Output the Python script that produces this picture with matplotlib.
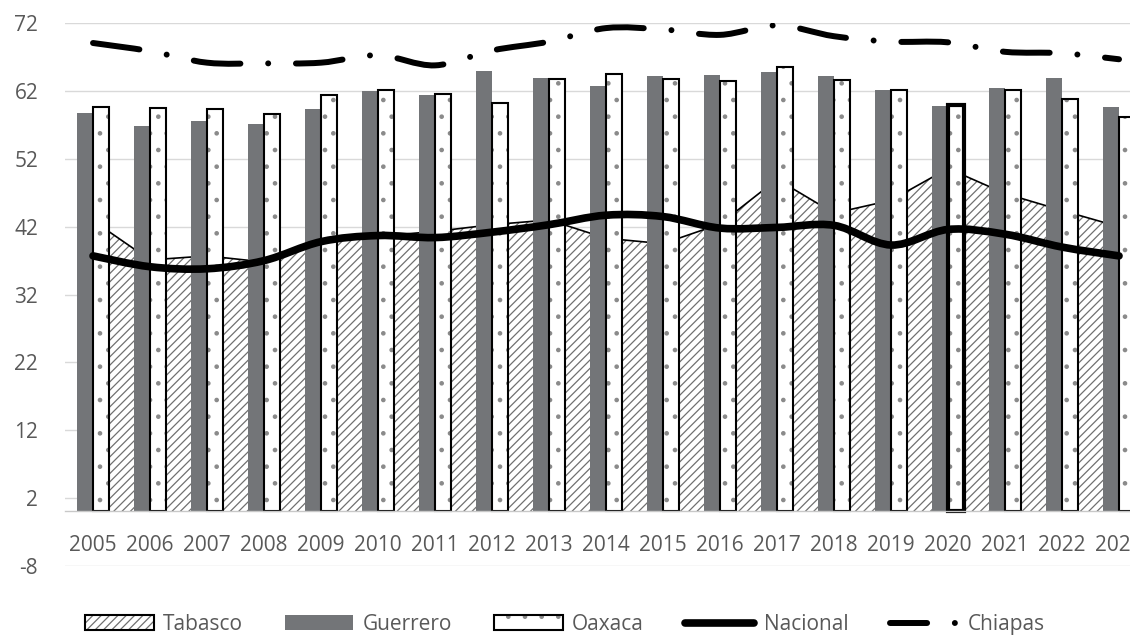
import matplotlib.pyplot as plt
import numpy as np
from matplotlib.legend_handler import HandlerTuple
from matplotlib.lines import Line2D
from matplotlib.patches import Patch, PathPatch
from matplotlib.path import Path

years = [str(y) for y in range(2005, 2024)]
tabasco = [42.9, 37.1, 37.7, 36.8, 39.8, 40.6, 41.3, 42.3, 43.0, 40.3,
           39.5, 42.4, 49.0, 44.0, 45.9, 50.6, 46.9, 44.4, 42.0]
guerrero = [58.8, 56.8, 57.6, 57.1, 59.4, 62.0, 61.5, 64.9, 64.0, 62.8,
            64.3, 64.4, 64.8, 64.2, 62.1, 59.8, 62.4, 64.0, 59.7]
oaxaca = [59.6, 59.5, 59.3, 58.7, 61.4, 62.2, 61.6, 60.3, 63.8, 64.5,
          63.8, 63.5, 65.6, 63.7, 62.2, 59.9, 62.2, 60.8, 58.2]
nacional = [37.7, 36.1, 35.8, 37.0, 39.8, 40.7, 40.4, 41.2, 42.3, 43.7,
            43.5, 41.8, 41.9, 42.2, 39.3, 41.6, 40.9, 39.0, 37.7]
chiapas = [69.1, 67.9, 66.2, 66.1, 66.2, 67.3, 65.8, 68.0, 69.3, 71.3,
           71.1, 70.3, 71.7, 70.1, 69.3, 69.2, 67.8, 67.6, 66.7]

TEXT = "#595959"
GRID = "#d9d9d9"
GRAY = "#737578"
HATCH = "#707070"

plt.rcParams["font.family"] = ["Open Sans", "DejaVu Sans"]
plt.rcParams["axes.unicode_minus"] = False
plt.rcParams["lines.scale_dashes"] = False
plt.rcParams["hatch.linewidth"] = 0.9

CHIAPAS_DASH = (0, (33.7, 20.0, 0.01, 20.0))


def smooth_path(xs, ys):
    """Bezier path through the points, with Catmull-Rom style tangents."""
    pts = np.column_stack([xs, ys]).astype(float)
    padded = np.vstack([pts[0], pts, pts[-1]])
    verts = [pts[0]]
    codes = [Path.MOVETO]
    for i in range(len(pts) - 1):
        p0, p1, p2, p3 = padded[i:i + 4]
        verts += [p1 + (p2 - p0) / 6.0, p2 - (p3 - p1) / 6.0, p2]
        codes += [Path.CURVE4] * 3
    return Path(verts, codes)


fig = plt.figure(figsize=(11.3, 6.36), dpi=100)
ax = fig.add_axes([0.0571, 0.1105, 0.9584, 0.8528])

x = np.arange(len(years))
width = 0.28

# Tabasco as a hatched area behind the bars
ax.fill_between(x, 0, tabasco, facecolor="white", edgecolor=HATCH,
                hatch="////", linewidth=0, zorder=1)
ax.plot(x, tabasco, color="black", linewidth=1.2, zorder=1.5)

ax.bar(x - width / 2, guerrero, width, color=GRAY, linewidth=0, zorder=2)
ax.bar(x + width / 2, oaxaca, width, facecolor="white", edgecolor="#8a8a8a",
       hatch=".", linewidth=0, zorder=2)
outline_w = [3.0 if y == "2020" else 1.5 for y in years]
ax.bar(x + width / 2, oaxaca, width, fill=False, edgecolor="black",
       linewidth=outline_w, zorder=2.1)

ax.add_patch(PathPatch(smooth_path(x, nacional), fill=False,
                       edgecolor="black", linewidth=5.5, capstyle="round",
                       joinstyle="round", zorder=4))
ax.add_patch(PathPatch(smooth_path(x, chiapas), fill=False,
                       edgecolor="black", linewidth=4.3, capstyle="round",
                       joinstyle="round", linestyle=CHIAPAS_DASH, zorder=4))

ax.set_xlim(-0.5, len(years) - 0.5)
ax.set_ylim(-8, 72)
ax.set_yticks(np.arange(-8, 73, 10))
ax.set_xticks(x, years)
ax.grid(axis="y", color=GRID, linewidth=1.0)
ax.set_axisbelow(True)

for side in ("top", "left", "right"):
    ax.spines[side].set_visible(False)
ax.spines["bottom"].set_position(("data", 0))
ax.spines["bottom"].set_color("#c8c8c8")
ax.spines["bottom"].set_linewidth(1.0)
ax.tick_params(axis="x", length=0, pad=17, labelsize=15, labelcolor=TEXT)
ax.tick_params(axis="y", length=0, pad=19, labelsize=15, labelcolor=TEXT)

handles = [
    (Patch(facecolor="white", edgecolor=HATCH, hatch="////", linewidth=0),
     Patch(fill=False, edgecolor="black", linewidth=1.5)),
    Patch(facecolor=GRAY, linewidth=0),
    (Patch(facecolor="white", edgecolor="#8a8a8a", hatch=".", linewidth=0),
     Patch(fill=False, edgecolor="black", linewidth=1.5)),
    Line2D([], [], color="black", linewidth=5.5, solid_capstyle="round"),
    Line2D([], [], color="black", linewidth=4.3, dash_capstyle="round",
           linestyle=(7, CHIAPAS_DASH[1])),
]
labels = ["Tabasco", "Guerrero", "Oaxaca", "Nacional", "Chiapas"]
leg = fig.legend(handles, labels, loc="center", bbox_to_anchor=(0.5, 0.018),
                 ncol=5, frameon=False, fontsize=15, handlelength=3.3,
                 handleheight=0.75, handletextpad=0.45, columnspacing=2.0,
                 handler_map={tuple: HandlerTuple(ndivide=1, pad=0)})
for t in leg.get_texts():
    t.set_color(TEXT)

fig.savefig("out.png", dpi=100)
